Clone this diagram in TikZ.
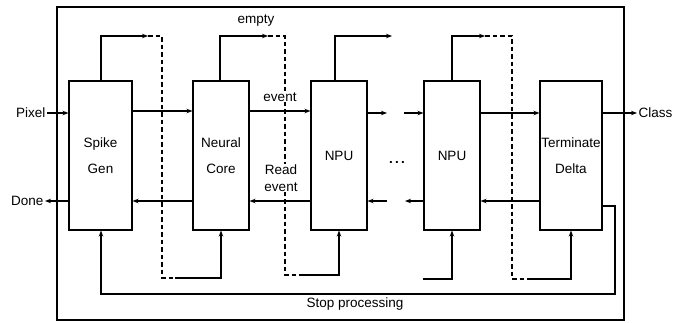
\documentclass[tikz,border=0pt]{standalone}
\usepackage{fontspec}
\setmainfont{Liberation Sans}
\usetikzlibrary{arrows.meta}
\begin{document}
\begin{tikzpicture}[x=1pt,y=-1pt, line width=1.1pt,
  box/.style={draw, minimum height=149pt, inner sep=0pt, align=center, font=\fontsize{13.5}{26}\selectfont},
  lbl/.style={font=\fontsize{13.5}{16}\selectfont, inner sep=1pt, align=center},
  arr/.style={-{Stealth[length=6pt,width=4.5pt]}},
  dsh/.style={dash pattern=on 4.5pt off 3pt}]
\useasboundingbox (0,0) rectangle (689,322);
\node[draw, minimum width=567pt, minimum height=313pt, inner sep=0pt] (frame) at (340.5,163.5) {};
% boxes
\node[box, minimum width=63pt] (sg) at (100.5,155.5) {Spike\\Gen};
\node[box, minimum width=56pt] (nc) at (221,155.5) {Neural\\Core};
\node[box, minimum width=56pt] (np1) at (339,155.5) {NPU};
\node[box, minimum width=56pt] (np2) at (452,155.5) {NPU};
\node[box, minimum width=62pt] (td) at (571,155.5) {Terminate\\Delta};
% outer labels
\node[lbl, anchor=east] (pixel) at (47,113) {Pixel};
\node[lbl, anchor=east] (done) at (45,201) {Done};
\node[lbl, anchor=west] (class) at (637,113) {Class};
\node[lbl] (dots) at (397,162) {\textbf{.\,.\,.}};
% forward arrows
\draw[arr] (pixel.east) -- (sg.west |- pixel.east);
\draw[arr] (sg.east |- 0,111) -- (nc.west |- 0,111);
\draw[arr] (nc.east |- 0,111) -- (np1.west |- 0,111);
\coordinate (f1) at (387,113);
\coordinate (f2) at (404,113);
\draw[arr] (np1.east |- f1) -- (f1);
\draw[arr] (f2) -- (np2.west |- f2);
\draw[arr] (np2.east |- 0,113) -- (td.west |- 0,113);
\draw[arr] (td.east |- class.west) -- (class.west);
% backward arrows
\draw[arr] (sg.west |- done.east) -- (done.east);
\draw[arr] (nc.west |- 0,201) -- (sg.east |- 0,201);
\draw[arr] (np1.west |- 0,201) -- (nc.east |- 0,201);
\coordinate (b1) at (387,201);
\coordinate (b2) at (405,201);
\draw[arr] (b1) -- (np1.east |- b1);
\draw[arr] (np2.west |- b2) -- (b2);
\draw[arr] (td.west |- 0,201) -- (np2.east |- 0,201);
% loop from spike gen to neural core
\coordinate (a1) at (148,36);
\coordinate (a2) at (175,278);
\draw[arr] (sg.north -| 101,0) |- (a1);
\draw[dsh] (a1) -- (162,36) -- (162,278) -- (a2);
\draw[arr] (a2) -| (nc.south -| 221,0);
% loop from neural core to npu1
\coordinate (c1) at (268,36);
\coordinate (c2) at (302,275);
\draw[arr] (nc.north -| 220,0) |- (c1);
\draw[dsh] (c1) -- (285,36) -- (285,275) -- (c2);
\draw[arr] (c2) -| (np1.south -| 339,0);
% npu1 top
\coordinate (d1) at (392,36);
\draw[arr] (np1.north -| 335,0) |- (d1);
% npu2 bottom
\coordinate (e1) at (423,279);
\draw[arr] (e1) -| (np2.south -| 452,0);
% npu2 to terminate
\coordinate (g1) at (485,36);
\coordinate (g2) at (531,279);
\draw[arr] (np2.north -| 452,0) |- (g1);
\draw[dsh] (g1) -- (512,36) -- (512,279) -- (g2);
\draw[arr] (g2) -| (td.south -| 571,0);
% stop processing
\coordinate (s1) at (615,294);
\draw[arr] (td.east |- 0,206) -| (s1) -| (sg.south -| 101,0);
\node[lbl] (stop) at (355,304) {Stop processing};
% labels
\node[lbl] (empty) at (256,21) {empty};
\node[lbl, fill=white] (event) at (280,97) {event};
\node[lbl, fill=white, font=\fontsize{13.5}{17}\selectfont] (read) at (281,178) {Read\\event};
\end{tikzpicture}
\end{document}
